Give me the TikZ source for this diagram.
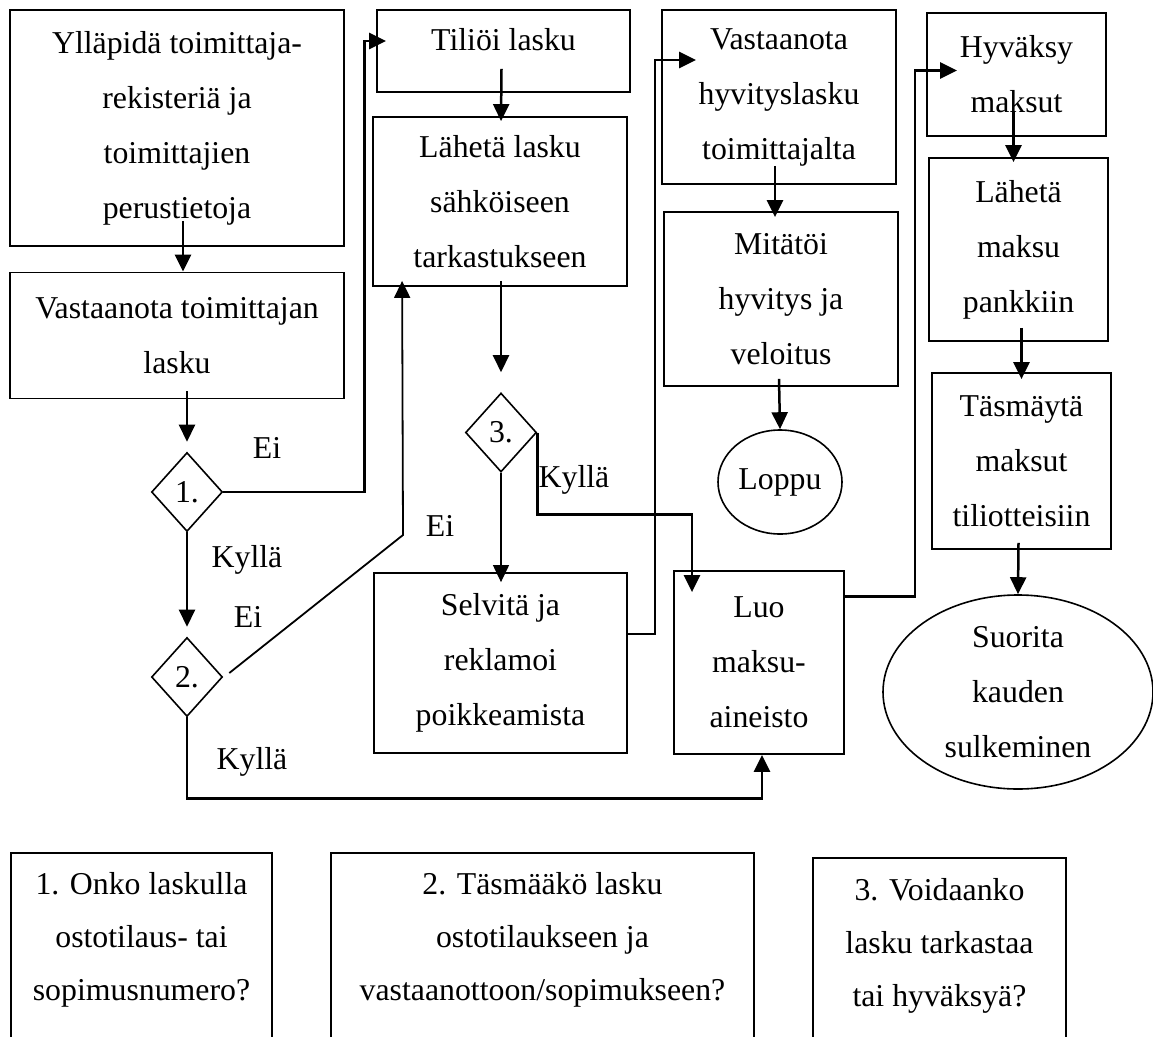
\documentclass[tikz,border=0pt]{standalone}
\usepackage{fontspec}
\setmainfont{Liberation Serif}
\usetikzlibrary{arrows.meta,shapes.geometric}

\begin{document}
\begin{tikzpicture}[x=1pt,y=-1pt,
  every node/.style={font=\fontsize{31.8}{55}\selectfont},
  box/.style={draw,line width=1.8pt,align=center,inner sep=0pt},
  choice/.style={draw,diamond,line width=1.6pt,inner sep=0pt,minimum width=71pt,minimum height=79pt},
  finish/.style={draw,ellipse,line width=1.6pt,align=center,inner sep=0pt},
  legend/.style={align=center,font=\fontsize{31.8}{53}\selectfont},
  frame/.style={line width=1.8pt},
  arr/.style={-{Triangle[length=17pt,width=16pt]},line width=2.5pt},
  link/.style={line width=2.5pt}]
  \useasboundingbox (0,0) rectangle (1153,1036);
  \clip (0,0) rectangle (1153,1036);

  \node[box,minimum width=334pt,minimum height=236pt] (upkeep) at (177,128) {Ylläpidä toimittaja-\\rekisteriä ja\\toimittajien\\perustietoja};
  \node[box,minimum width=334pt,minimum height=126pt] (receive) at (177,335.5) {Vastaanota toimittajan\\lasku};
  \node[choice] (q1) at (187,492) {1.};
  \node[choice] (q2) at (187,677) {2.};

  \node[box,minimum width=253pt,minimum height=82pt,text depth=24pt] (post) at (503.5,51) {Tiliöi lasku};
  \node[box,minimum width=254pt,minimum height=169pt] (send) at (500,201.5) {Lähetä lasku\\sähköiseen\\tarkastukseen};
  \node[choice] (q3) at (501,432.5) {3.};
  \node[box,minimum width=253pt,minimum height=180pt] (check) at (500.5,663) {Selvitä ja\\reklamoi\\poikkeamista};
  \node[box,minimum width=170pt,minimum height=183pt] (luo) at (759,662.5) {Luo\\maksu-\\aineisto};

  \node[box,minimum width=234pt,minimum height=174pt] (credit) at (779,97) {Vastaanota\\hyvityslasku\\toimittajalta};
  \node[box,minimum width=234pt,minimum height=174pt] (cancel) at (781,299) {Mitätöi\\hyvitys ja\\veloitus};
  \node[finish,minimum width=124pt,minimum height=104pt] (loppu) at (780,482) {Loppu};

  \node[box,minimum width=179pt,minimum height=123pt] (approve) at (1016.5,74.5) {Hyväksy\\maksut};
  \node[box,minimum width=179pt,minimum height=183pt] (bank) at (1018.5,249.5) {Lähetä\\maksu\\pankkiin};
  \node[box,minimum width=179pt,minimum height=176pt] (match) at (1021.5,461) {Täsmäytä\\maksut\\tiliotteisiin};
  \node[finish,minimum width=270pt,minimum height=194pt] (close) at (1018,692) {Suorita\\kauden\\sulkeminen};

  \node (no1) at (267,448) {Ei};
  \node (yes1) at (247,560) {Kyllä};
  \node (no2) at (248,617) {Ei};
  \node (no3) at (440,526) {Ei};
  \node (yes2) at (252,762) {Kyllä};
  \node (yes3) at (574,480) {Kyllä};
  \coordinate (eibend) at (403,535);

  \draw[arr] ([xshift=6pt,yshift=26pt]upkeep.south) -- ([xshift=6pt]receive.north);
  \draw[arr] ([xshift=10pt,yshift=8pt]receive.south) -- ([yshift=10pt]q1.north);
  \draw[arr] (q1.south) -- ([yshift=10pt]q2.north);
  \draw[arr] (q1.east) -- ++(141,0) |- ([xshift=10pt,yshift=10pt]post.west);
  \draw[arr,line width=1.8pt] ([xshift=6pt,yshift=4pt]q2.east) -- (eibend) -- ([xshift=30pt,yshift=6pt]send.south west);
  \draw[arr] (q2.south) -- ++(0,81) -| ([xshift=3pt]luo.south);

  \draw[arr] ([xshift=-2pt,yshift=24pt]post.south) -- ([xshift=1pt,yshift=-5pt]send.north);
  \draw[arr] ([xshift=1pt,yshift=6pt]send.south) -- ([yshift=20pt]q3.north);
  \draw[link] (q3.south) -- ++(0,23);
  \draw[arr,line width=1.2pt] (q3.south) -- ([xshift=0.5pt,yshift=-10pt]check.north);
  \draw[arr] (q3.east) -- ++(0,82) -| ([xshift=-67pt,yshift=-22pt]luo.north);
  \draw[arr] ([yshift=29pt]check.east) -- ++(27,0) |- ([xshift=35pt,yshift=37pt]credit.west);

  \draw[arr] ([xshift=-4pt,yshift=19pt]credit.south) -- ([xshift=-6pt,yshift=-6pt]cancel.north);
  \draw[arr] ([xshift=-2pt,yshift=8pt]cancel.south) -- (loppu.north);
  \draw[arr] ([yshift=66pt]luo.east) -- ++(70,0) |- ([xshift=31pt,yshift=4pt]approve.west);

  \draw[arr] ([xshift=-3pt,yshift=26pt]approve.south) -- ([xshift=-5pt,yshift=-5pt]bank.north);
  \draw[arr] ([xshift=3pt,yshift=14pt]bank.south) -- ([yshift=-7pt]match.north);
  \draw[arr] ([xshift=-3pt,yshift=7pt]match.south) -- (close.north);

  \draw[frame] (11,1070) -- (11,853) -- (272,853) -- (272,1070);
  \draw[frame] (331,1070) -- (331,853) -- (754,853) -- (754,1070);
  \draw[frame] (813,1070) -- (813,858) -- (1066,858) -- (1066,1070);
  \node[legend] (legend1) at (141.5,940) {1. Onko laskulla\\ostotilaus- tai\\sopimusnumero?};
  \node[legend] (legend2) at (542.5,940) {2. Täsmääkö lasku\\ostotilaukseen ja\\vastaanottoon/sopimukseen?};
  \node[legend] (legend3) at (939.5,946) {3. Voidaanko\\lasku tarkastaa\\tai hyväksyä?};
\end{tikzpicture}
\end{document}
